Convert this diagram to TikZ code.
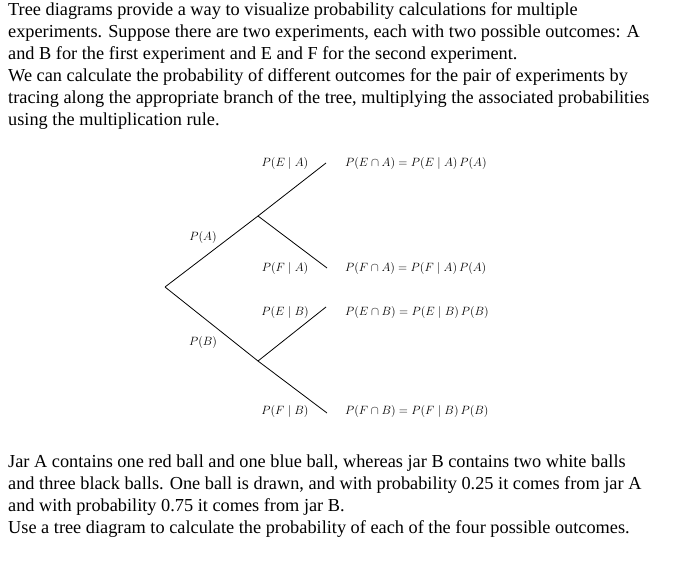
\documentclass[tikz,border=0pt]{standalone}
\usepackage{fontspec}
\setmainfont{Liberation Serif}
\tikzstyle{para} = [anchor=north west, align=left, inner sep=0pt, font=\fontsize{18.3}{22}\selectfont]
\tikzstyle{lbl} = [inner sep=0pt, font=\fontsize{12.8}{14}\selectfont]

\begin{document}
\begin{tikzpicture}[x=1pt, y=-1pt, branch/.style={thick}]
			\useasboundingbox (0,0) rectangle (680,578);
			% text above and below the tree
			\node (top)[para] at (8,2) {Tree diagrams provide a way to visualize probability calculations for multiple\\
				experiments. Suppose there are two experiments, each with two possible outcomes: A\\
				and B for the first experiment and E and F for the second experiment.\\
				We can calculate the probability of different outcomes for the pair of experiments by\\
				tracing along the appropriate branch of the tree, multiplying the associated probabilities\\
				using the multiplication rule.};
			\node (bottom)[para] at (8,455) {Jar A contains one red ball and one blue ball, whereas jar B contains two white balls\\
				and three black balls. One ball is drawn, and with probability 0.25 it comes from jar A\\
				and with probability 0.75 it comes from jar B.\\
				Use a tree diagram to calculate the probability of each of the four possible outcomes.};
			
			% the tree
			\coordinate (r) at (165,287);
			\coordinate (a) at (258,216);
			\coordinate (b) at (258,361);
			\coordinate (ea) at (326,163);
			\coordinate (fa) at (327,268);
			\coordinate (eb) at (326,307);
			\coordinate (fb) at (327,413);
			
			\draw[branch] (r) -- (a);
			\draw[branch] (r) -- (b);
			\draw[branch] (a) -- (ea);
			\draw[branch] (a) -- (fa);
			\draw[branch] (b) -- (eb);
			\draw[branch] (b) -- (fb);
			
			\node (pa)[lbl] at (203,237) {$P(A)$};
			\node (pb)[lbl] at (203,342) {$P(B)$};
			\node (pea)[lbl] at (285,163) {$P(E\mid A)$};
			\node (pfa)[lbl] at (285,268) {$P(F\mid A)$};
			\node (peb)[lbl] at (285,312) {$P(E\mid B)$};
			\node (pfb)[lbl] at (285,411) {$P(F\mid B)$};
			\node (rea)[lbl, anchor=west] at (345,163) {$P(E\cap A)=P(E\mid A)\,P(A)$};
			\node (rfa)[lbl, anchor=west] at (345,268) {$P(F\cap A)=P(F\mid A)\,P(A)$};
			\node (reb)[lbl, anchor=west] at (345,312) {$P(E\cap B)=P(E\mid B)\,P(B)$};
			\node (rfb)[lbl, anchor=west] at (345,411) {$P(F\cap B)=P(F\mid B)\,P(B)$};
		\end{tikzpicture}
\end{document}
